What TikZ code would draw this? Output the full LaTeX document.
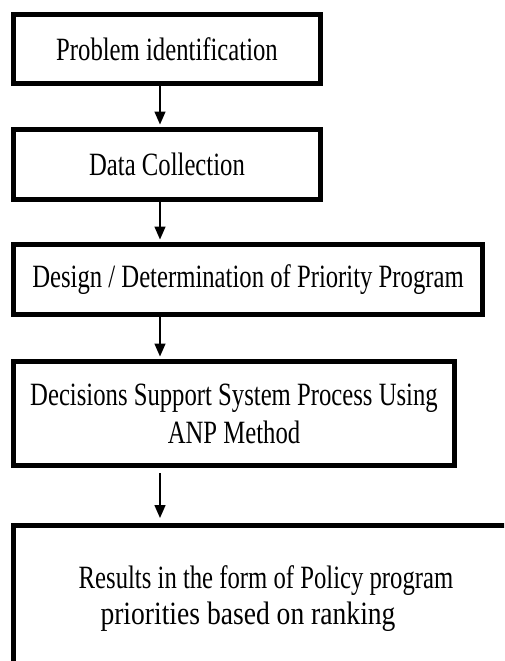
\documentclass[tikz,border=0pt]{standalone}
\usepackage{graphicx}
\usepackage{fontspec}
\setmainfont[FakeStretch=0.76]{Liberation Serif}
\usetikzlibrary{arrows.meta}
\begin{document}
\begin{tikzpicture}[x=1pt,y=-1pt,
  txt/.style={font=\fontsize{32.5}{38}\selectfont, align=center, inner sep=0pt},
  box/.style={txt, draw, line width=5pt, rectangle},
  arr/.style={line width=1.5pt, -{Triangle[length=13pt,width=11pt]}, shorten >=2.5pt}]
\useasboundingbox (0,0) rectangle (504,661);
\clip (0,0) rectangle (504,661);
\node[box, minimum width=307pt, minimum height=69pt] (b1) at (167,49) {Problem identification};
\node[box, minimum width=307pt, minimum height=70pt] (b2) at (167,164.5) {Data Collection};
\node[box, minimum width=469pt, minimum height=70pt] (b3) at (248,279.5) {Design / Determination of Priority Program};
\node[box, minimum width=441pt, minimum height=104pt] (b4) at (234,413.5) {Decisions Support System Process Using\\ANP Method};
\node[box, minimum width=546.5pt, minimum height=194.5pt] (b5) at (286.75,622.75) {};
\node[txt, font=\fontsize{32.5}{36}\selectfont] (res) at (248,598.5) {\hspace*{36pt}Results in the form of Policy program\\\scalebox{1.117}[1]{priorities based on ranking}};
\coordinate (ax) at (160,0);
\draw[arr] (b1.south -| ax) -- (b2.north -| ax);
\draw[arr] (b2.south -| ax) -- (b3.north -| ax);
\draw[arr] (b3.south -| ax) -- (b4.north -| ax);
\draw[arr, shorten <=5pt, shorten >=5pt] (b4.south -| ax) -- (b5.north -| ax);
\end{tikzpicture}
\end{document}
